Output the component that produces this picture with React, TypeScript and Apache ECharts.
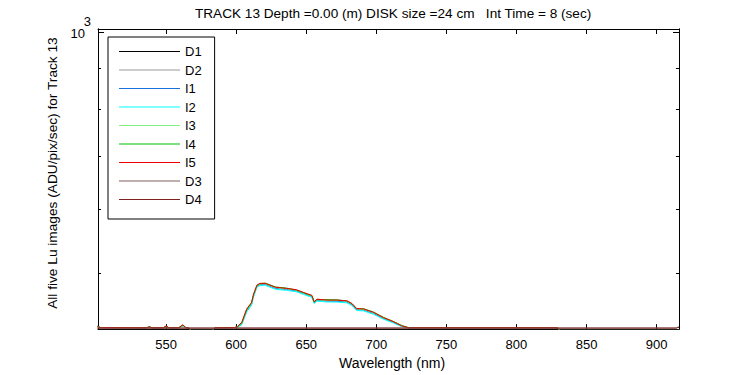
import React, { useEffect, useRef } from "react";
import * as echarts from "echarts";

const FONT = "'Liberation Sans', Arial, Helvetica, sans-serif";

const titleText = "TRACK 13 Depth =0.00 (m) DISK size =24 cm   Int Time = 8 (sec)";
const xName = "Wavelength (nm)";
const yName = "All five Lu images (ADU/pix/sec) for Track 13";

const seriesNames = ["D1", "D2", "I1", "I2", "I3", "I4", "I5", "D3", "D4"];
const seriesColors = ["#000000", "#999999", "#1a6fdf", "#00ffff", "#80f080", "#00c000", "#ee0000", "#7f5f5f", "#802020"];

const xTicks = [550, 600, 650, 700, 750, 800, 850, 900];
const yMajorTicks = [1000];
const yMinorTicks = [500, 600, 700, 800, 900];
const xMin = 501.4;
const xMax = 916;
const yMin = 425.6;
const yMax = 1009;

// wavelength grid for the image (I) series
const waveI = [501, 503, 536, 538, 540, 548, 550, 552, 559, 562, 564, 566, 568, 583, 585, 599, 601, 604, 607.5, 611, 612.4, 614.8, 617, 620.7, 624, 628, 636, 643, 648, 654, 655.7, 657.6, 664.8, 672, 679, 682.6, 686, 690.9, 698, 705, 712, 718, 723, 829, 831, 914, 916];

const I1 = [429, 427.5, 427.3, 427.8, 427.3, 427.3, 428.5, 427.3, 427.3, 429.5, 427.5, 427, 424, 424, 427.3, 427.5, 428, 432, 448.5, 457.5, 468.5, 481, 483.8, 484, 481.5, 478.5, 477, 475, 471.5, 467.5, 459, 462.3, 461.2, 461, 460.2, 456.5, 450, 449.5, 445.2, 438.8, 434, 429.2, 427.3, 427.3, 424, 424, 424];
const I2 = [429, 427.5, 427.3, 427.8, 427.3, 427.3, 428.5, 427.3, 427.3, 429.5, 427.5, 427, 424, 424, 427.3, 427.5, 427.8, 431, 447, 456, 467, 480, 482.5, 482.8, 480.2, 477.2, 475.8, 473.8, 470.3, 466.3, 458, 461.3, 460.2, 460, 459, 455.5, 449, 448.5, 444.2, 438, 433.2, 428.8, 427.3, 427.3, 424, 424, 424];
const I3 = [429, 427.5, 427.3, 428, 427.3, 427.3, 429, 427.3, 427.3, 430, 427.5, 427, 424, 424, 427.3, 427.5, 428.3, 432.5, 449.5, 458.5, 469.5, 482, 484.5, 485, 482.5, 479.5, 478, 476, 472.3, 468.3, 459.8, 463.2, 462.2, 462.2, 461.2, 457.5, 451, 450.6, 446.2, 439.7, 434.8, 429.8, 427.3, 427.3, 424, 424, 424];
const I4 = [429, 427.5, 427.3, 428.3, 427.3, 427.3, 429, 427.3, 427.3, 430.5, 427.5, 427, 424, 424, 427.3, 427.5, 428.5, 433, 450, 459, 470, 482.5, 485, 485.8, 483.5, 480.5, 478.8, 476.3, 472.5, 468.5, 460, 463.5, 463.2, 463, 461.5, 457.8, 451.2, 451.3, 447, 440.3, 435.2, 430.2, 427.3, 427.3, 424, 424, 424];
const I5 = [429, 427.5, 427.3, 428.5, 427.3, 427.3, 429.5, 427.3, 427.3, 431, 427.5, 427, 424, 424, 427.3, 427.5, 429, 434, 451, 459.6, 470.7, 483, 485.5, 485.5, 483, 480, 478.5, 476.6, 473, 469, 460.3, 463.9, 462.6, 462.6, 461.7, 458.2, 451.6, 451, 446.6, 440, 435, 429.7, 427.3, 427.3, 424, 424, 424];

// wavelength grid for the dark (D) series
const waveD = [501, 914, 916];
const D1 = [424, 424, 424];
const D2 = [424, 424, 424];
const D3 = [426.9, 426.9, 428.5];
const D4 = [426.8, 426.8, 428];

export default function App() {
  const ref = useRef<HTMLDivElement>(null);
  useEffect(() => {
    if (!ref.current) return;
    const chart = echarts.init(ref.current, undefined, { renderer: "svg" });
    const pairs = (w: number[], v: number[]) => w.map((x, i) => [x, v[i]]);
    const seriesData = [
      pairs(waveD, D1),
      pairs(waveD, D2),
      pairs(waveI, I1),
      pairs(waveI, I2),
      pairs(waveI, I3),
      pairs(waveI, I4),
      pairs(waveI, I5),
      pairs(waveD, D3),
      pairs(waveD, D4),
    ];
    const axisLine = { show: true, lineStyle: { color: "#000", width: 1 } };
    const yBase = {
      type: "log" as const,
      logBase: 10,
      min: yMin,
      max: yMax,
      axisLine,
      splitLine: { show: false },
    };
    const xBase = {
      type: "value" as const,
      min: xMin,
      max: xMax,
      axisLine,
      splitLine: { show: false },
    };
    chart.setOption({
      animation: false,
      backgroundColor: "#fff",
      textStyle: { fontFamily: FONT },
      title: {
        text: titleText,
        left: 195,
        top: 6,
        padding: 0,
        textStyle: { fontFamily: FONT, fontSize: 13.6, fontWeight: "normal", color: "#000" },
      },
      legend: {
        orient: "vertical",
        left: 108,
        top: 37,
        padding: [8, 13, 13, 11],
        icon: "rect",
        itemWidth: 61,
        itemHeight: 1,
        itemGap: 5.5,
        borderColor: "#000",
        borderWidth: 1,
        backgroundColor: "#fff",
        textStyle: { fontFamily: FONT, fontSize: 13, lineHeight: 13, color: "#000" },
        data: seriesNames,
      },
      grid: { left: 98, right: 71, top: 29, bottom: 45 },
      xAxis: [
        {
          ...xBase,
          position: "bottom",
          name: xName,
          nameLocation: "middle",
          nameGap: 25,
          nameTextStyle: { fontFamily: FONT, fontSize: 14, color: "#000", padding: [0, 0, 0, 7] },
          axisTick: { show: true, inside: true, length: 5, customValues: xTicks, lineStyle: { color: "#000" } },
          axisLabel: { show: true, customValues: xTicks, margin: 9, fontFamily: FONT, fontSize: 13, color: "#000" },
        },
        {
          ...xBase,
          position: "top",
          axisTick: { show: true, inside: true, length: 5, customValues: xTicks, lineStyle: { color: "#000" } },
          axisLabel: { show: false },
        },
      ],
      yAxis: [
        {
          ...yBase,
          position: "left",
          name: yName,
          nameLocation: "middle",
          nameGap: 36,
          nameTextStyle: { fontFamily: FONT, fontSize: 13.7, color: "#000", padding: [0, 0, 0, 12] },
          axisTick: { show: true, inside: true, length: 6, customValues: yMajorTicks, lineStyle: { color: "#000" } },
          axisLabel: {
            show: true,
            customValues: yMajorTicks,
            margin: 7,
            padding: [0, 0, 9, 0],
            formatter: () => "{e|3}\n{m|10}",
            rich: {
              e: { fontFamily: FONT, fontSize: 13, color: "#000", lineHeight: 12, align: "right" },
              m: { fontFamily: FONT, fontSize: 13, color: "#000", lineHeight: 12, align: "right", padding: [0, 6, 0, 0] },
            },
          },
        },
        {
          ...yBase,
          position: "left",
          axisTick: { show: true, inside: true, length: 3, customValues: yMinorTicks, lineStyle: { color: "#000" } },
          axisLabel: { show: false },
        },
        {
          ...yBase,
          position: "right",
          axisTick: { show: true, inside: true, length: 6, customValues: yMajorTicks, lineStyle: { color: "#000" } },
          axisLabel: { show: false },
        },
        {
          ...yBase,
          position: "right",
          axisTick: { show: true, inside: true, length: 3, customValues: yMinorTicks, lineStyle: { color: "#000" } },
          axisLabel: { show: false },
        },
      ],
      series: seriesNames.map((name, i) => ({
        name,
        type: "line",
        xAxisIndex: 0,
        yAxisIndex: 0,
        data: seriesData[i],
        symbol: "none",
        showSymbol: false,
        clip: true,
        color: seriesColors[i],
        itemStyle: { color: seriesColors[i] },
        lineStyle: { color: seriesColors[i], width: 1 },
        emphasis: { disabled: true },
      })),
    });
    return () => chart.dispose();
  }, []);
  return (
    <div
      ref={ref}
      style={{ position: "absolute", left: 0, top: 0, width: 750, height: 375, background: "#fff" }}
    />
  );
}
